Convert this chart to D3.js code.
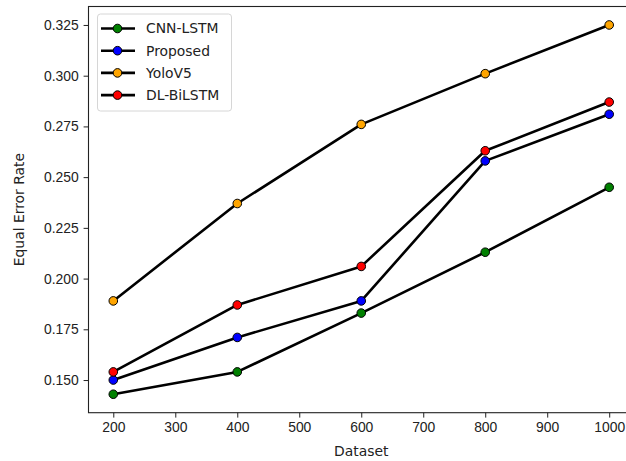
<!DOCTYPE html>
<html>
<head>
<meta charset="utf-8">
<script src="https://cdn.jsdelivr.net/npm/d3@7"></script>
<style>
  body { margin: 0; background: #fff; overflow: hidden; }
  svg { font-family: "DejaVu Sans", sans-serif; }
</style>
</head>
<body>
<div id="plot"></div>
<script>
var datasets = [200, 400, 600, 800, 1000];
var seriesNames = ["CNN-LSTM", "Proposed", "YoloV5", "DL-BiLSTM"];
var seriesColors = ["green", "blue", "orange", "red"];
var cnnLstm = [0.143, 0.154, 0.183, 0.213, 0.245];
var proposed = [0.150, 0.171, 0.189, 0.258, 0.281];
var yoloV5 = [0.189, 0.237, 0.276, 0.301, 0.325];
var dlBiLstm = [0.154, 0.187, 0.206, 0.263, 0.287];
var xTicks = [200, 300, 400, 500, 600, 700, 800, 900, 1000];
var yTicks = [0.150, 0.175, 0.200, 0.225, 0.250, 0.275, 0.300, 0.325];

var allSeries = [cnnLstm, proposed, yoloV5, dlBiLstm];

var margin = { top: 6.5, left: 88.5 },
    width = 634 - margin.left,
    height = 412.7 - margin.top;

// matplotlib style 5% padding around data
var xMin = 200, xMax = 1000, xPad = (xMax - xMin) * 0.05;
var yAll = [].concat.apply([], allSeries);
var yMin = d3.min(yAll), yMax = d3.max(yAll), yPad = (yMax - yMin) * 0.05;

var xScale = d3.scaleLinear()
    .domain([xMin - xPad, xMax + xPad])
    .range([0, width]);

var yScale = d3.scaleLinear()
    .domain([yMin - yPad, yMax + yPad])
    .range([height, 0]);

var svg = d3.select("#plot").append("svg")
    .attr("width", 626)
    .attr("height", 461)
    .append("g")
    .attr("transform", "translate(" + margin.left + "," + margin.top + ")");

var xAxis = d3.axisBottom(xScale).tickValues(xTicks).tickSize(4.9).tickPadding(4.9).tickFormat(d3.format("d"));
var yAxis = d3.axisLeft(yScale).tickValues(yTicks).tickSize(4.9).tickPadding(4.9).tickFormat(d3.format(".3f"));

svg.append("g")
    .attr("transform", "translate(0," + height + ")")
    .call(xAxis)
    .call(function(g) { g.select(".domain").remove(); });

svg.append("g")
    .call(yAxis)
    .call(function(g) { g.select(".domain").remove(); });

svg.selectAll(".tick text")
    .style("font-size", "13.9px")
    .attr("fill", "#222");
svg.selectAll(".tick line")
    .attr("stroke", "#222");

// frame
svg.append("rect")
    .attr("x", 0)
    .attr("y", 0)
    .attr("width", width)
    .attr("height", height)
    .attr("fill", "none")
    .attr("stroke", "#222")
    .attr("stroke-width", 1.1);

// axis labels
svg.append("text")
    .attr("transform", "rotate(-90)")
    .attr("x", -height / 2)
    .attr("y", -margin.left + 24)
    .style("text-anchor", "middle")
    .style("font-size", "13.9px")
    .attr("fill", "#222")
    .text("Equal Error Rate");

svg.append("text")
    .attr("x", width / 2)
    .attr("y", height + 43.5)
    .style("text-anchor", "middle")
    .style("font-size", "13.9px")
    .attr("fill", "#222")
    .text("Dataset");

var line = d3.line()
    .x(function(d, i) { return xScale(datasets[i]); })
    .y(function(d) { return yScale(d); });

allSeries.forEach(function(values, k) {
    svg.append("path")
        .datum(values)
        .attr("d", line)
        .attr("fill", "none")
        .attr("stroke", "#000")
        .attr("stroke-width", 2.6)
        .attr("stroke-linejoin", "round");

    svg.append("g")
        .selectAll("circle")
        .data(values).enter()
        .append("circle")
        .attr("cx", function(d, i) { return xScale(datasets[i]); })
        .attr("cy", function(d) { return yScale(d); })
        .attr("r", 4.3)
        .attr("fill", seriesColors[k])
        .attr("stroke", "#000")
        .attr("stroke-width", 1);
});

// Legend
var legend = svg.append("g")
    .attr("transform", "translate(" + (97.5 - margin.left) + "," + (14 - margin.top) + ")");

legend.append("rect")
    .attr("width", 134)
    .attr("height", 97)
    .attr("rx", 3)
    .attr("fill", "#fff")
    .attr("fill-opacity", 0.8)
    .attr("stroke", "#d6d6d6");

var items = legend.selectAll(".item")
    .data(seriesNames).enter()
    .append("g")
    .attr("transform", function(d, i) { return "translate(0," + (14.5 + i * 22.2) + ")"; });

items.append("line")
    .attr("x1", 3.5)
    .attr("x2", 37.5)
    .attr("stroke", "#000")
    .attr("stroke-width", 2.6);

items.append("circle")
    .attr("cx", 20)
    .attr("r", 4.3)
    .attr("fill", function(d, i) { return seriesColors[i]; })
    .attr("stroke", "#000");

items.append("text")
    .attr("x", 48.5)
    .attr("dy", "0.35em")
    .style("font-size", "13.9px")
    .attr("fill", "#222")
    .text(function(d) { return d; });
</script>
</body>
</html>
